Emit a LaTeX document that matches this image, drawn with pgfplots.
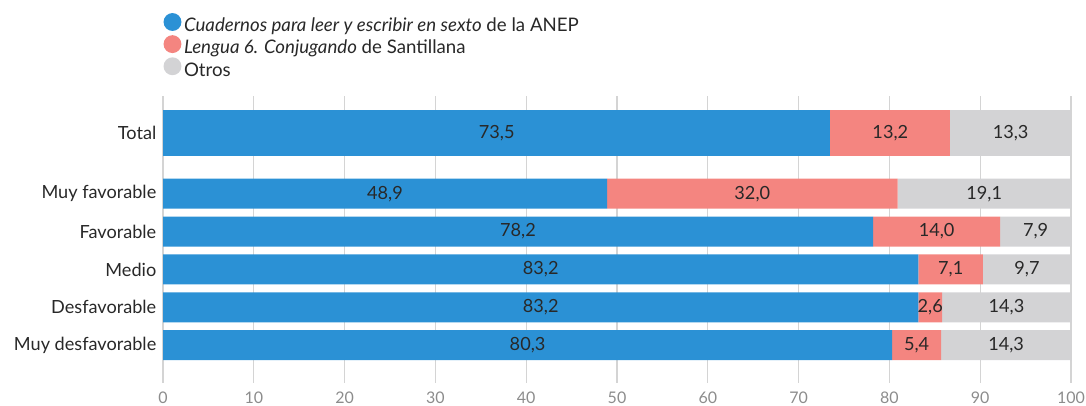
\documentclass[border=0pt]{standalone}
\usepackage{pgfplots}
\pgfplotsset{compat=1.18}
\usepackage{fontspec}
\setmainfont{Lato}
\definecolor{cblue}{RGB}{43,145,213}
\definecolor{cred}{RGB}{244,133,128}
\definecolor{cgray}{RGB}{211,211,213}
\definecolor{ctext}{RGB}{40,40,40}
\definecolor{ctick}{RGB}{140,140,140}
\definecolor{cgrid}{RGB}{212,212,212}
\pgfplotstableread{
x y l
36.75 0 73,5
80.1 0 13,2
93.35 0 13,3
24.45 1.6 48,9
64.9 1.6 32,0
90.45 1.6 19,1
39.1 2.6 78,2
85.2 2.6 14,0
96.1 2.6 7,9
41.6 3.6 83,2
86.75 3.6 7,1
95.15 3.6 9,7
41.6 4.6 83,2
84.5 4.6 2,6
92.9 4.6 14,3
40.15 5.6 80,3
83.0 5.6 5,4
92.85 5.6 14,3
}\labels
\begin{document}
\begin{tikzpicture}[x=0.75pt,y=0.75pt]
\useasboundingbox (0,0) rectangle (1086,405);
\pgfplotsset{
  base/.style={
    scale only axis, width=681pt, height=215.25pt,
    at={(122.25pt,16.5pt)}, anchor=south west,
    xmin=0, xmax=100, ymin=-0.98, ymax=6.6, y dir=reverse,
  }
}
\begin{axis}[base,
  xbar stacked, bar width=34.5pt,
  axis line style={draw=none}, major tick length=0pt,
  xmajorgrids, grid style={cgrid, line width=0.9pt},
  xtick={0,10,...,100},
  ytick={0,1.6,2.6,3.6,4.6,5.6},
  yticklabels={Total,Muy favorable,Favorable,Medio,Desfavorable,Muy desfavorable},
  y tick label style={text=ctext, font=\fontsize{13.6}{16}\selectfont, xshift=-1.5pt},
  x tick label style={text=ctick, font=\fontsize{12}{14}\selectfont, yshift=-3pt},
  /pgf/number format/assume math mode=true,
]
\addplot[fill=cblue, draw=none] coordinates {(73.5,0)};
\addplot[fill=cred, draw=none] coordinates {(13.2,0)};
\addplot[fill=cgray, draw=none] coordinates {(13.3,0)};
\end{axis}
\begin{axis}[base, hide axis, xbar stacked, bar width=22.5pt,
  legend style={at={(0.0003,1.29)}, anchor=north west, draw=none, fill=none,
    font=\fontsize{14}{16.5}\selectfont, text=ctext, row sep=-1pt, inner sep=0pt},
  legend cell align=left,
  legend image code/.code={\fill[#1] (0.75pt,0.3em) circle (6.7pt);},
]
\addplot[fill=cblue, draw=none] coordinates {(48.9,1.6) (78.2,2.6) (83.2,3.6) (83.2,4.6) (80.3,5.6)};
\addplot[fill=cred, draw=none] coordinates {(32.0,1.6) (14.0,2.6) (7.1,3.6) (2.6,4.6) (5.4,5.6)};
\addplot[fill=cgray, draw=none] coordinates {(19.1,1.6) (7.9,2.6) (9.7,3.6) (14.3,4.6) (14.3,5.6)};
\legend{\textit{Cuadernos para leer y escribir en sexto} de la ANEP,
  \textit{Lengua 6. Conjugando} de Santillana, Otros}
\end{axis}
\begin{axis}[base, hide axis, clip=false]
\addplot[only marks, mark=*, mark size=0pt, mark options={draw=none,fill=none},
  nodes near coords, point meta=explicit symbolic,
  every node near coord/.append style={anchor=center, text=ctext, font=\fontsize{13.6}{16}\selectfont}]
  table[x=x, y=y, meta=l] {\labels};
\end{axis}
\end{tikzpicture}
\end{document}
